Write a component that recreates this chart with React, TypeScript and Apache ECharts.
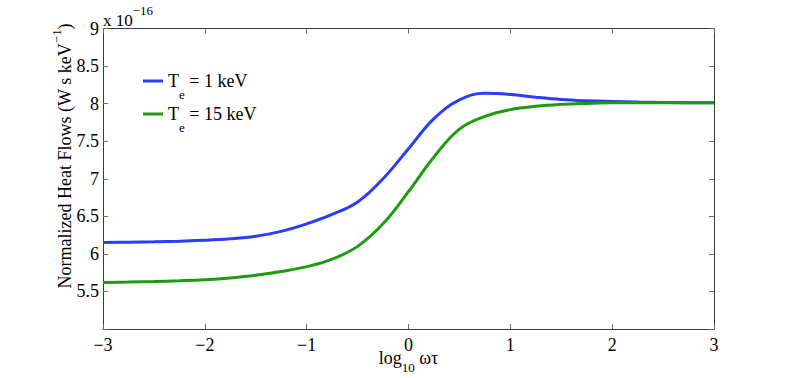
import React, { useEffect, useRef } from "react";
import * as echarts from "echarts";

const xs = [-3, -2.75, -2.5, -2.25, -2, -1.75, -1.5, -1.25, -1, -0.75, -0.5, -0.25, 0, 0.25, 0.5, 0.75, 1, 1.25, 1.5, 1.75, 2, 2.25, 2.5, 2.75, 3];
const blueValues = [6.15, 6.155, 6.161, 6.169, 6.18, 6.2, 6.235, 6.3, 6.4, 6.525, 6.69, 7.0, 7.4, 7.8, 8.05, 8.137, 8.122, 8.085, 8.055, 8.038, 8.028, 8.02, 8.015, 8.012, 8.012];
const greenValues = [5.62, 5.625, 5.632, 5.642, 5.656, 5.68, 5.715, 5.765, 5.83, 5.93, 6.1, 6.4, 6.83, 7.29, 7.66, 7.83, 7.92, 7.965, 7.99, 8.003, 8.01, 8.012, 8.012, 8.012, 8.012];
const seriesNames = ["Te = 1 keV", "Te = 15 keV"];
const legendTexts = ["{t|T}{s|e}{t| = 1 keV}", "{t|T}{s|e}{t| = 15 keV}"];
const FONT = "Liberation Serif";

export default function App() {
  const ref = useRef<HTMLDivElement>(null);
  useEffect(() => {
    document.body.style.margin = "0";
    const chart = echarts.init(ref.current!, null, { renderer: "svg" });
    const axisLineColor = "#3a3a3a";
    const tickColor = "#6a6a6a";
    const commonX = {
      type: "value" as const,
      min: -3,
      max: 3,
      interval: 1,
      splitLine: { show: false },
      axisLine: { show: true, onZero: false, lineStyle: { color: axisLineColor, width: 1 } },
      axisTick: { show: true, inside: true, length: 5, lineStyle: { color: tickColor } },
    };
    const commonY = {
      type: "value" as const,
      min: 5,
      max: 9,
      interval: 0.5,
      splitLine: { show: false },
      axisLine: { show: true, onZero: false, lineStyle: { color: axisLineColor, width: 1 } },
      axisTick: { show: true, inside: true, length: 5, lineStyle: { color: tickColor } },
    };
    chart.setOption({
      animation: false,
      backgroundColor: "#ffffff",
      textStyle: { fontFamily: FONT },
      grid: { left: 103, right: 75, top: 28.5, bottom: 49, outerBoundsMode: "none" },
      xAxis: [
        {
          ...commonX,
          position: "bottom",
          axisLabel: {
            show: true,
            margin: 7,
            color: "#000",
            fontFamily: FONT,
            fontSize: 18,
            formatter: (v: number) => String(v).replace("-", "\u2212"),
          },
        },
        {
          ...commonX,
          position: "top",
          axisLabel: { show: false },
        },
      ],
      yAxis: [
        {
          ...commonY,
          position: "left",
          axisLabel: {
            show: true,
            margin: 4,
            color: "#000",
            fontFamily: FONT,
            fontSize: 18,
            formatter: (v: number) => (v === 5 ? "" : String(v)),
          },
        },
        {
          ...commonY,
          position: "right",
          axisLabel: { show: false },
        },
      ],
      legend: {
        orient: "vertical",
        left: 143,
        top: 72,
        padding: 0,
        icon: "rect",
        itemWidth: 20,
        itemHeight: 3,
        itemGap: 4,
        data: seriesNames,
        formatter: (name: string) => legendTexts[seriesNames.indexOf(name)],
        textStyle: {
          fontFamily: FONT,
          fontSize: 18,
          color: "#000",
          rich: {
            t: { fontFamily: FONT, fontSize: 18, color: "#000", lineHeight: 40, verticalAlign: "middle" },
            s: { fontFamily: FONT, fontSize: 13, color: "#000", verticalAlign: "bottom" },
          },
        },
      },
      series: [
        {
          name: seriesNames[0],
          type: "line",
          smooth: 0.4,
          symbol: "none",
          data: xs.map((x, i) => [x, blueValues[i]]),
          lineStyle: { color: "#2a3cff", width: 3 },
          itemStyle: { color: "#2a3cff" },
          z: 3,
        },
        {
          name: seriesNames[1],
          type: "line",
          smooth: 0.4,
          symbol: "none",
          data: xs.map((x, i) => [x, greenValues[i]]),
          lineStyle: { color: "#1f9b0f", width: 3 },
          itemStyle: { color: "#1f9b0f" },
          z: 4,
        },
      ],
      graphic: [
        {
          type: "text",
          x: 103,
          y: 20.5,
          style: {
            text: "{a|x 10}{s|\u221216}",
            align: "left",
            verticalAlign: "middle",
            rich: {
              a: { fontFamily: FONT, fontSize: 17, fill: "#000", lineHeight: 34, verticalAlign: "middle" },
              s: { fontFamily: FONT, fontSize: 13, fill: "#000", verticalAlign: "top" },
            },
          },
        },
        {
          type: "text",
          x: 408.5,
          y: 358,
          style: {
            text: "{a|log}{s|10}{a| \u03c9\u03c4}",
            align: "center",
            verticalAlign: "middle",
            rich: {
              a: { fontFamily: FONT, fontSize: 18, fill: "#000", lineHeight: 32, verticalAlign: "middle" },
              s: { fontFamily: FONT, fontSize: 13, fill: "#000", verticalAlign: "bottom" },
            },
          },
        },
        {
          type: "text",
          x: 65,
          y: 156,
          rotation: Math.PI / 2,
          style: {
            text: "{a|Normalized Heat Flows (W s keV}{s|\u22121}{a|)}",
            align: "center",
            verticalAlign: "middle",
            rich: {
              a: { fontFamily: FONT, fontSize: 18, fill: "#000", lineHeight: 30, verticalAlign: "middle" },
              s: { fontFamily: FONT, fontSize: 13, fill: "#000", verticalAlign: "top" },
            },
          },
        },
      ],
    });
    return () => chart.dispose();
  }, []);
  return (
    <div
      ref={ref}
      style={{ position: "fixed", left: 0, top: 0, width: 789, height: 378, background: "#fff" }}
    />
  );
}
